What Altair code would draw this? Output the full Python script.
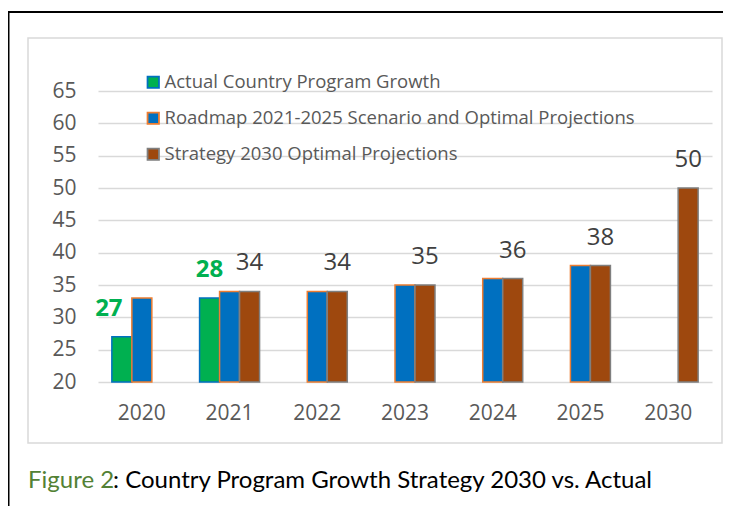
import altair as alt
import pandas as pd

years = ["2020", "2021", "2022", "2023", "2024", "2025", "2030"]
series_names = [
    "Actual Country Program Growth",
    "Roadmap 2021-2025 Scenario and Optimal Projections",
    "Strategy 2030 Optimal Projections",
]
actual = [27, 33, None, None, None, None, None]
roadmap = [33, 34, 34, 35, 36, 38, None]
strategy = [None, 34, 34, 35, 36, 38, 50]
actual_labels = ["27", "28", None, None, None, None, None]
strategy_labels = [None, "34", "34", "35", "36", "38", "50"]
y_ticks = [20, 25, 30, 35, 40, 45, 50, 55, 60, 65]
caption_head = "Figure 2"
caption_tail = ": Country Program Growth Strategy 2030 vs. Actual"

fills = ["#00B050", "#0070C0", "#9E480E"]
strokes = ["#0070C0", "#ED7D31", "#7F7F7F"]

rows = []
for i, y in enumerate(years):
    for s, vals in zip(series_names, [actual, roadmap, strategy]):
        if vals[i] is not None:
            rows.append({"year": y, "series": s, "value": vals[i]})
bars_df = pd.DataFrame(rows)

lab_rows = []
for i, y in enumerate(years):
    if actual_labels[i] is not None:
        lab_rows.append({"year": y, "series": series_names[0], "value": actual[i],
                         "label": actual_labels[i], "kind": "actual_first" if i == 0 else "actual"})
    if strategy_labels[i] is not None:
        lab_rows.append({"year": y, "series": series_names[2], "value": strategy[i],
                         "label": strategy_labels[i], "kind": "strategy"})
labels_df = pd.DataFrame(lab_rows)

W, H = 614, 291
FONT = "Open Sans"

x_axis = alt.Axis(title=None, labelAngle=0, domain=False, ticks=False,
                  labelFontSize=21, labelFont=FONT, labelColor="#595959",
                  labelPadding=20, grid=False)
y_axis = alt.Axis(title=None, values=y_ticks, domain=False, ticks=False,
                  labelFontSize=21, labelFont=FONT, labelColor="#595959",
                  labelPadding=22, labelOverlap=False, labelBound=False,
                  grid=True, gridColor="#D9D9D9", gridWidth=1.5)
x_scale = alt.Scale(domain=years, paddingInner=0.316, paddingOuter=0.158)
xoff_scale = alt.Scale(domain=series_names, paddingInner=0, paddingOuter=0)
y_scale = alt.Scale(domain=[20, 65], zero=False, nice=False)

legend = alt.Legend(title=None, orient="none", legendX=46, legendY=-18,
                    symbolType="square", symbolSize=130, symbolStrokeWidth=1.8,
                    labelFont=FONT, labelFontSize=18.5, labelColor="#595959",
                    labelLimit=700, rowPadding=16, labelOffset=2, padding=0,
                    symbolOpacity=1)

bars = alt.Chart(bars_df).mark_bar(strokeWidth=1.5, opacity=1).encode(
    x=alt.X("year:N", sort=years, scale=x_scale, axis=x_axis),
    xOffset=alt.XOffset("series:N", sort=series_names, scale=xoff_scale),
    y=alt.Y("value:Q", scale=y_scale, axis=y_axis),
    y2=alt.datum(20),
    color=alt.Color("series:N", scale=alt.Scale(domain=series_names, range=fills), legend=legend),
    stroke=alt.Stroke("series:N", scale=alt.Scale(domain=series_names, range=strokes), legend=legend),
)

lab_base = alt.Chart(labels_df).encode(
    x=alt.X("year:N", sort=years, scale=x_scale, axis=x_axis),
    xOffset=alt.XOffset("series:N", sort=series_names, scale=xoff_scale),
    y=alt.Y("value:Q", scale=y_scale, axis=y_axis),
    text="label:N",
)
strat_text = lab_base.transform_filter(alt.datum.kind == "strategy").mark_text(
    font=FONT, fontSize=24, color="#404040", dy=-28, baseline="middle")
act_text = lab_base.transform_filter(alt.datum.kind == "actual").mark_text(
    font=FONT, fontSize=24, fontWeight="bold", color="#00B050", dy=-28, baseline="middle")
act_first = lab_base.transform_filter(alt.datum.kind == "actual_first").mark_text(
    font=FONT, fontSize=24, fontWeight="bold", color="#00B050", dy=-28, dx=-13, baseline="middle")

deco_df = pd.DataFrame({"a": [0]})
inner_box = alt.Chart(deco_df).mark_rect(fillOpacity=0, stroke="#D9D9D9", strokeWidth=1.5).encode(
    x=alt.value(-70), x2=alt.value(624), y=alt.value(-53), y2=alt.value(352))
outer_top = alt.Chart(deco_df).mark_rule(color="black", strokeWidth=2).encode(
    x=alt.value(-90), x2=alt.value(640), y=alt.value(-79))
outer_left = alt.Chart(deco_df).mark_rule(color="black", strokeWidth=2).encode(
    x=alt.value(-89.5), y=alt.value(-80), y2=alt.value(430))

cap_df = pd.DataFrame({"head": [caption_head], "tail": [caption_tail]})
cap_head = alt.Chart(cap_df).mark_text(font="Lato", fontSize=24, color="#538135",
                                       align="left", baseline="alphabetic").encode(
    x=alt.value(-70), y=alt.value(397), text="head:N")
cap_tail = alt.Chart(cap_df).mark_text(font="Lato", fontSize=24, color="#000000",
                                       align="left", baseline="alphabetic").encode(
    x=alt.value(15), y=alt.value(397), text="tail:N")

chart = alt.layer(
    inner_box, outer_top, outer_left, bars, strat_text, act_text, act_first, cap_head, cap_tail
).properties(
    width=W, height=H,
    autosize=alt.AutoSizeParams(type="none"),
    padding={"left": 90, "top": 83, "right": 11, "bottom": 124},
    background="white",
).configure_view(stroke=None)

chart.save("out.html", embed_options={"renderer": "svg", "actions": False})
